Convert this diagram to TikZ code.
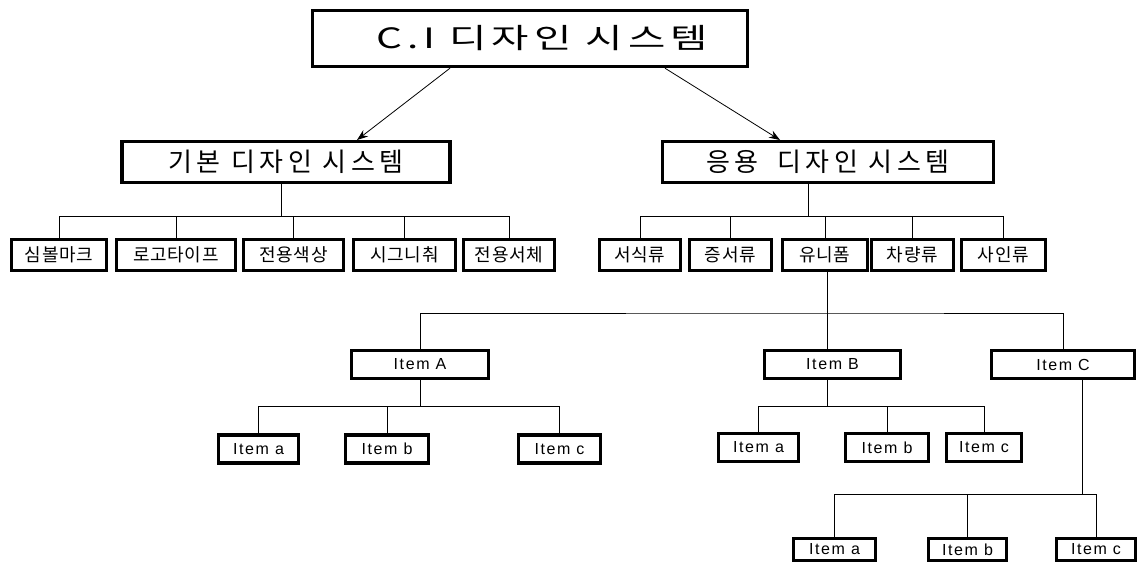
\documentclass[tikz,border=0pt]{standalone}
\usepackage{fontspec}
\setmainfont{Liberation Sans}
\newfontfamily\krT[FakeStretch=1.45,LetterSpace=18]{Noto Sans CJK KR}
\newfontfamily\krM[LetterSpace=18]{Noto Sans CJK KR}
\newfontfamily\krS[LetterSpace=4]{Noto Sans CJK KR}
\newfontfamily\itm[LetterSpace=10]{Liberation Sans}
\usetikzlibrary{arrows.meta}
\begin{document}
\begin{tikzpicture}[x=1pt,y=-1pt,
  box/.style={draw,line width=3.4pt,inner sep=0pt,anchor=center},
  tbox/.style={box,minimum width=#1,minimum height=40.6pt,font=\fontsize{26}{26}\krM},
  lbox/.style={box,minimum width=#1,minimum height=30.6pt,font=\fontsize{18}{18}\krS},
  ibox/.style={box,minimum width=#1,minimum height=28pt,font=\fontsize{16}{16}\itm},
  conn/.style={line width=0.8pt},
  arr/.style={line width=0.8pt,-{Stealth[length=11pt,width=8pt]}}]
\useasboundingbox[fill=white] (0,0) rectangle (1145,563);
% title
\node[box,minimum width=435pt,minimum height=56pt,font=\fontsize{28}{28}\krT] (title) at (530,38.5) {\hspace{24pt}C.I 디자인 시스템};
% level 1
\node[tbox=328pt] (basic) at (286,162) {기본 디자인 시스템};
\node[tbox=331pt] (apply) at (828,162) {응용\hspace{8pt} 디자인 시스템};
\draw[arr] (title.south -| 450,0) -- (basic.north -| 357,0);
\draw[arr] (title.south -| 665,0) -- (apply.north -| 780,0);
% left leaves
\node[lbox=94.6pt]  (l1) at (59,255)    {심볼마크};
\node[lbox=118.6pt] (l2) at (176,255)   {로고타이프};
\node[lbox=99.6pt]  (l3) at (293.5,255) {전용색상};
\node[lbox=101.6pt] (l4) at (404.5,255) {시그니춰};
\node[lbox=90.6pt]  (l5) at (509,255)   {전용서체};
\coordinate (jl) at (281,216);
\draw[conn] (jl |- basic.south) -- (jl);
\draw[conn] (l1.north) -- (l1.north |- jl) -- (l5.north |- jl) -- (l5.north);
\foreach \n in {l2,l3,l4} \draw[conn] (\n.north) -- (\n.north |- jl);
% right leaves
\node[lbox=80.6pt] (r1) at (640,255)    {서식류};
\node[lbox=81.6pt] (r2) at (730.5,255)  {증서류};
\node[lbox=84.6pt] (r3) at (825,255)    {유니폼};
\node[lbox=81.6pt] (r4) at (912.5,255)  {차량류};
\node[lbox=83.6pt] (r5) at (1003.5,255) {사인류};
\coordinate (jr) at (808,216);
\draw[conn] (jr |- apply.south) -- (jr);
\draw[conn] (r1.north) -- (r1.north |- jr) -- (r5.north |- jr) -- (r5.north);
\foreach \n in {r2,r3,r4} \draw[conn] (\n.north) -- (\n.north |- jr);
% items level
\node[ibox=136.6pt] (iA) at (420,364.5)   {Item A};
\node[ibox=135.6pt] (iB) at (832.5,364.5) {Item B};
\node[ibox=142.6pt] (iC) at (1063,364.5)  {Item C};
\coordinate (jm) at (827,313);
\draw[conn] (jm |- r3.south) -- (jm |- iB.north);
\draw[conn] (iA.north) |- (jm) -| (iC.north);
% Item A children
\node[ibox=79.6pt] (aa) at (258.5,449) {Item a};
\node[ibox=82.6pt] (ab) at (387,449)   {Item b};
\node[ibox=81.6pt] (ac) at (559.5,449) {Item c};
\coordinate (ya) at (420,406);
\draw[conn] (iA.south) -- (ya);
\draw[conn] (aa.north) -- (aa.north |- ya) -- (ac.north |- ya) -- (ac.north);
\draw[conn] (ab.north) -- (ab.north |- ya);
% Item B children
\node[ibox=79.6pt] (ba) at (758.5,447.5) {Item a};
\node[ibox=82.6pt] (bb) at (887,447.5)   {Item b};
\node[ibox=74.6pt] (bc) at (984,447.5)   {Item c};
\coordinate (yb) at (827,406);
\draw[conn] (yb |- iB.south) -- (yb);
\draw[conn] (ba.north) -- (ba.north |- yb) -- (bc.north |- yb) -- (bc.north);
\draw[conn] (bb.north) -- (bb.north |- yb);
% Item C children
\node[ibox=81.6pt,minimum height=22pt] (ca) at (834.5,549.5) {Item a};
\node[ibox=77.6pt,minimum height=22pt] (cb) at (967.5,549.5) {Item b};
\node[ibox=78.6pt,minimum height=22pt] (cc) at (1096,549.5)  {Item c};
\coordinate (yc) at (1082,494);
\draw[conn] (yc |- iC.south) -- (yc);
\draw[conn] (ca.north) -- (ca.north |- yc) -- (cc.north |- yc) -- (cc.north);
\draw[conn] (cb.north) -- (cb.north |- yc);
\end{tikzpicture}
\end{document}
